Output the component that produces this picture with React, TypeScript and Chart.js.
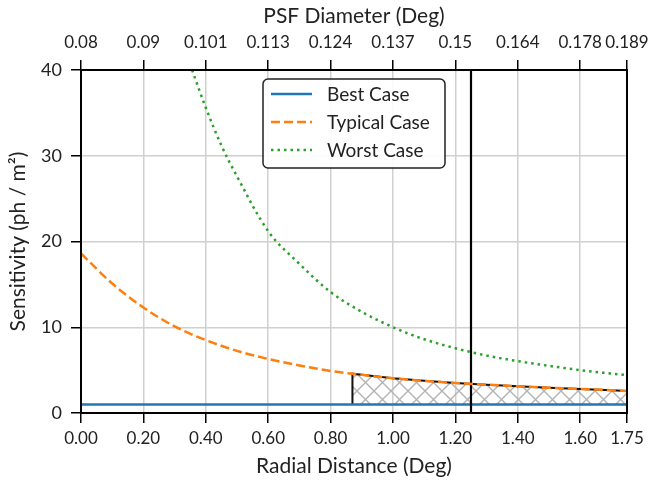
import React, { useEffect, useRef } from "react";
import { Chart, registerables } from "chart.js";

Chart.register(...registerables);

const xTickValues = [0, 0.2, 0.4, 0.6, 0.8, 1.0, 1.2, 1.4, 1.6, 1.75];
const bottomTickLabels = ["0.00", "0.20", "0.40", "0.60", "0.80", "1.00", "1.20", "1.40", "1.60", "1.75"];
const topTickLabels = ["0.08", "0.09", "0.101", "0.113", "0.124", "0.137", "0.15", "0.164", "0.178", "0.189"];
const yTickValues = [0, 10, 20, 30, 40];

const bestX = [0, 1.75];
const bestY = [1, 1];

const typicalX = [0, 0.1, 0.2, 0.3, 0.4, 0.5, 0.6, 0.7, 0.8, 0.9, 1.0, 1.1, 1.2, 1.3, 1.4, 1.5, 1.6, 1.7, 1.75];
const typicalY = [18.6, 15.1, 12.3, 10.1, 8.5, 7.25, 6.3, 5.55, 4.9, 4.45, 4.05, 3.75, 3.5, 3.3, 3.12, 2.95, 2.8, 2.66, 2.57];

const worstX = [0.356, 0.4, 0.45, 0.5, 0.6, 0.7, 0.8, 0.9, 1.0, 1.1, 1.2, 1.3, 1.4, 1.5, 1.6, 1.7, 1.75];
const worstY = [40, 35.6, 31.2, 27.6, 21.2, 17.4, 14.1, 11.8, 10.0, 8.6, 7.55, 6.7, 6.05, 5.5, 5.0, 4.6, 4.43];

const regionX = [0.87, 0.87, 0.9, 1.0, 1.1, 1.2, 1.3, 1.4, 1.5, 1.6, 1.7, 1.75];
const regionY = [1, 4.58, 4.45, 4.05, 3.75, 3.5, 3.3, 3.12, 2.95, 2.8, 2.66, 2.57];

const thresholdX = [1.25, 1.25];
const thresholdY = [0, 40];

const seriesLabels = ["Best Case", "Typical Case", "Worst Case"];
const FONT = "Lato, 'DejaVu Sans', sans-serif";
const TICK_SIZE = 17;

const pts = (xs: number[], ys: number[]) => xs.map((x, i) => ({ x, y: ys[i] }));

function makeHatch(): CanvasPattern | string {
  const s = 17;
  const c = document.createElement("canvas");
  c.width = s;
  c.height = s;
  const g = c.getContext("2d");
  if (!g) return "rgba(0,0,0,0)";
  g.strokeStyle = "#b4b4b4";
  g.lineWidth = 1.4;
  for (const k of [-s, 0, s]) {
    g.beginPath();
    g.moveTo(k, 0);
    g.lineTo(k + s, s);
    g.stroke();
    g.beginPath();
    g.moveTo(k, s);
    g.lineTo(k + s, 0);
    g.stroke();
  }
  const p = g.createPattern(c, "repeat");
  return p || "rgba(0,0,0,0)";
}

const framePlugin = {
  id: "frame",
  afterDatasetsDraw(chart: any) {
    const { ctx, chartArea: a } = chart;
    ctx.save();
    ctx.strokeStyle = "#000";
    ctx.lineWidth = 2;
    ctx.strokeRect(a.left, a.top, a.right - a.left, a.bottom - a.top);
    ctx.restore();
  },
};

const legendPlugin = {
  id: "innerLegend",
  afterDraw(chart: any) {
    const { ctx } = chart;
    const entries = [0, 1, 2].map((i) => chart.data.datasets[i]);
    const bx = 263, by = 79, bw = 182, bh = 89, r = 5;
    ctx.save();
    ctx.beginPath();
    ctx.moveTo(bx + r, by);
    ctx.lineTo(bx + bw - r, by);
    ctx.arcTo(bx + bw, by, bx + bw, by + r, r);
    ctx.lineTo(bx + bw, by + bh - r);
    ctx.arcTo(bx + bw, by + bh, bx + bw - r, by + bh, r);
    ctx.lineTo(bx + r, by + bh);
    ctx.arcTo(bx, by + bh, bx, by + bh - r, r);
    ctx.lineTo(bx, by + r);
    ctx.arcTo(bx, by, bx + r, by, r);
    ctx.closePath();
    ctx.fillStyle = "rgba(255,255,255,0.9)";
    ctx.fill();
    ctx.strokeStyle = "#222";
    ctx.lineWidth = 1.5;
    ctx.stroke();
    const rows = [94, 122, 150];
    entries.forEach((ds: any, i: number) => {
      const y = rows[i];
      ctx.beginPath();
      ctx.setLineDash(ds.borderDash || []);
      ctx.lineCap = "butt";
      ctx.strokeStyle = ds.borderColor;
      ctx.lineWidth = ds.borderWidth;
      ctx.moveTo(271, y);
      ctx.lineTo(312, y);
      ctx.stroke();
      ctx.setLineDash([]);
      ctx.fillStyle = "#222";
      ctx.font = `19px ${FONT}`;
      ctx.textBaseline = "middle";
      ctx.textAlign = "left";
      ctx.fillText(ds.label, 327, y + 1);
    });
    ctx.restore();
  },
};

export default function App() {
  const ref = useRef<HTMLCanvasElement | null>(null);
  useEffect(() => {
    if (!ref.current) return;
    const hatch = makeHatch();
    const nearestIndex = (v: number) => {
      let best = 0;
      xTickValues.forEach((t, i) => {
        if (Math.abs(t - v) < Math.abs(xTickValues[best] - v)) best = i;
      });
      return best;
    };
    const gridCommon = {
      color: "#d0d0d0",
      lineWidth: 1.5,
      tickColor: "#000",
      tickWidth: 1.5,
      tickLength: 10,
    };
    const chart = new Chart(ref.current, {
      type: "line",
      data: {
        datasets: [
          {
            label: seriesLabels[0],
            data: pts(bestX, bestY),
            borderColor: "#1f77b4",
            borderWidth: 2.5,
            pointRadius: 0,
            order: 5,
          },
          {
            label: seriesLabels[1],
            data: pts(typicalX, typicalY),
            borderColor: "#ff7f0e",
            borderWidth: 2.5,
            borderDash: [9, 4],
            pointRadius: 0,
            cubicInterpolationMode: "monotone",
            order: 1,
          },
          {
            label: seriesLabels[2],
            data: pts(worstX, worstY),
            borderColor: "#2ca02c",
            borderWidth: 2.5,
            borderDash: [2.5, 4],
            pointRadius: 0,
            cubicInterpolationMode: "monotone",
            order: 2,
          },
          {
            label: "region",
            data: pts(regionX, regionY),
            borderColor: "#111",
            borderWidth: 2,
            backgroundColor: hatch as any,
            fill: { value: 1 },
            pointRadius: 0,
            tension: 0,
            order: 6,
          },
          {
            label: "threshold",
            data: pts(thresholdX, thresholdY),
            borderColor: "#000",
            borderWidth: 2.2,
            pointRadius: 0,
            order: 3,
          },
        ],
      } as any,
      options: {
        animation: false,
        responsive: false,
        maintainAspectRatio: false,
        layout: { padding: { left: 0, right: 33, top: 0, bottom: 0 } },
        plugins: { legend: { display: false }, tooltip: { enabled: false } },
        scales: {
          x: {
            type: "linear",
            position: "bottom",
            min: 0,
            max: 1.75,
            afterBuildTicks: (s: any) => {
              s.ticks = xTickValues.map((v) => ({ value: v }));
            },
            afterFit: (s: any) => {
              s.height = 68;
            },
            ticks: {
              autoSkip: false,
              maxRotation: 0,
              padding: 5,
              color: "#222",
              font: { size: TICK_SIZE, family: FONT },
              callback: (v: any) => bottomTickLabels[nearestIndex(Number(v))],
            },
            grid: gridCommon,
            border: { display: false },
            title: {
              display: true,
              text: "Radial Distance (Deg)",
              color: "#222",
              font: { size: 21, family: FONT },
              padding: { top: 0, bottom: 2.4 },
            },
          },
          x2: {
            type: "linear",
            position: "top",
            min: 0,
            max: 1.75,
            afterBuildTicks: (s: any) => {
              s.ticks = xTickValues.map((v) => ({ value: v }));
            },
            afterFit: (s: any) => {
              s.height = 70;
            },
            ticks: {
              autoSkip: false,
              maxRotation: 0,
              padding: 7,
              color: "#222",
              font: { size: TICK_SIZE, family: FONT },
              callback: (v: any) => topTickLabels[nearestIndex(Number(v))],
            },
            grid: { ...gridCommon, drawOnChartArea: false },
            border: { display: false },
            title: {
              display: true,
              text: "PSF Diameter (Deg)",
              color: "#222",
              font: { size: 21, family: FONT },
              padding: { top: 3.4, bottom: 0 },
            },
          },
          y: {
            type: "linear",
            position: "left",
            min: 0,
            max: 40,
            afterBuildTicks: (s: any) => {
              s.ticks = yTickValues.map((v) => ({ value: v }));
            },
            afterFit: (s: any) => {
              s.width = 81;
            },
            ticks: {
              padding: 9,
              color: "#222",
              font: { size: 18, family: FONT },
              callback: (v: any) => String(v),
            },
            grid: gridCommon,
            border: { display: false },
            title: {
              display: true,
              text: "Sensitivity (ph / m²)",
              color: "#222",
              font: { size: 21, family: FONT },
              padding: { top: 5.4, bottom: 0 },
            },
          },
        },
      } as any,
      plugins: [framePlugin, legendPlugin],
    });
    return () => chart.destroy();
  }, []);
  return (
    <div style={{ position: "fixed", left: 0, top: 0, width: 660, height: 481, background: "#fff" }}>
      <canvas ref={ref} width={660} height={481} style={{ width: 660, height: 481, display: "block" }} />
    </div>
  );
}
